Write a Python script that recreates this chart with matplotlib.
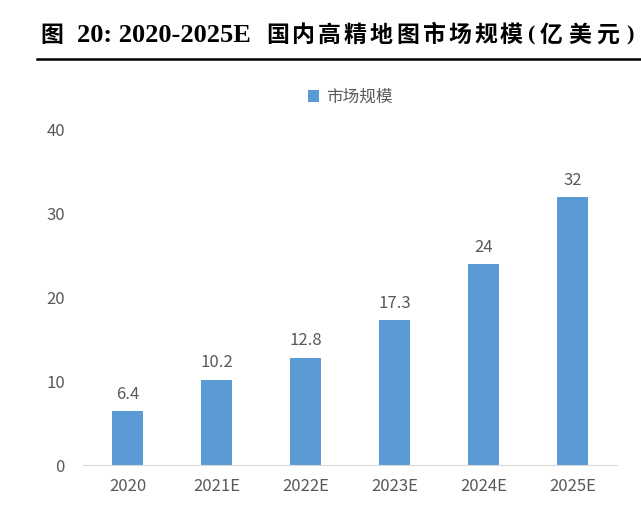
import matplotlib.pyplot as plt
from matplotlib.lines import Line2D

plt.rcParams['font.family'] = ['Noto Sans CJK SC', 'DejaVu Sans']

years = ['2020', '2021E', '2022E', '2023E', '2024E', '2025E']
market_size = [6.4, 10.2, 12.8, 17.3, 24, 32]
value_labels = ['6.4', '10.2', '12.8', '17.3', '24', '32']

bar_color = '#5B9BD5'
text_color = '#595959'
W, H = 641, 514

fig = plt.figure(figsize=(6.41, 5.14), dpi=100)
ax = fig.add_axes([0.1295, 0.0953, 0.833, 0.652])

x = range(len(years))
bars = ax.bar(x, market_size, width=0.34, color=bar_color, label='市场规模', zorder=2)
for xi, v, lab in zip(x, market_size, value_labels):
    ax.text(xi, v + 1.0, lab, ha='center', va='bottom', fontsize=12, color=text_color)

ax.set_xlim(-0.5, 5.5)
ax.set_ylim(0, 40)
ax.set_yticks([0, 10, 20, 30, 40])
ax.set_xticks(list(x))
ax.set_xticklabels(years)
ax.tick_params(axis='both', length=0, labelsize=12, labelcolor=text_color)
ax.tick_params(axis='y', pad=13)
ax.tick_params(axis='x', pad=9)
for s in ['top', 'right', 'left']:
    ax.spines[s].set_visible(False)
ax.spines['bottom'].set_color('#D9D9D9')

ax.legend(loc='center', bbox_to_anchor=(0.5, 1.097), frameon=False, fontsize=12,
          labelcolor=text_color, handlelength=0.7, handleheight=0.7, handletextpad=0.4)

# title, spaced out like the report's caption
ty = 1 - 35 / H
cn = 16.5
fig.text(40 / W, ty, '图', fontsize=cn, fontweight='bold', ha='left', va='center')
fig.text(77 / W, ty, '20: 2020-2025E', fontsize=19, fontweight='bold',
         family='Liberation Serif', ha='left', va='center')
title_cn = '国内高精地图市场规模'
for i, ch in enumerate(title_cn):
    fig.text((266 + 26 * i) / W, ty, ch, fontsize=cn, fontweight='bold', ha='left', va='center')
fig.text(528 / W, ty, '(', fontsize=16, fontweight='bold', family='Liberation Serif', ha='left', va='center')
for i, ch in enumerate('亿美元'):
    fig.text((540 + 28 * i) / W, ty, ch, fontsize=cn, fontweight='bold', ha='left', va='center')
fig.text(626 / W, ty, ')', fontsize=16, fontweight='bold', family='Liberation Serif', ha='left', va='center')
fig.add_artist(Line2D([37 / W, 1.0], [1 - 59 / H, 1 - 59 / H], color='black', lw=1.8))

fig.savefig('out.png', dpi=100)
